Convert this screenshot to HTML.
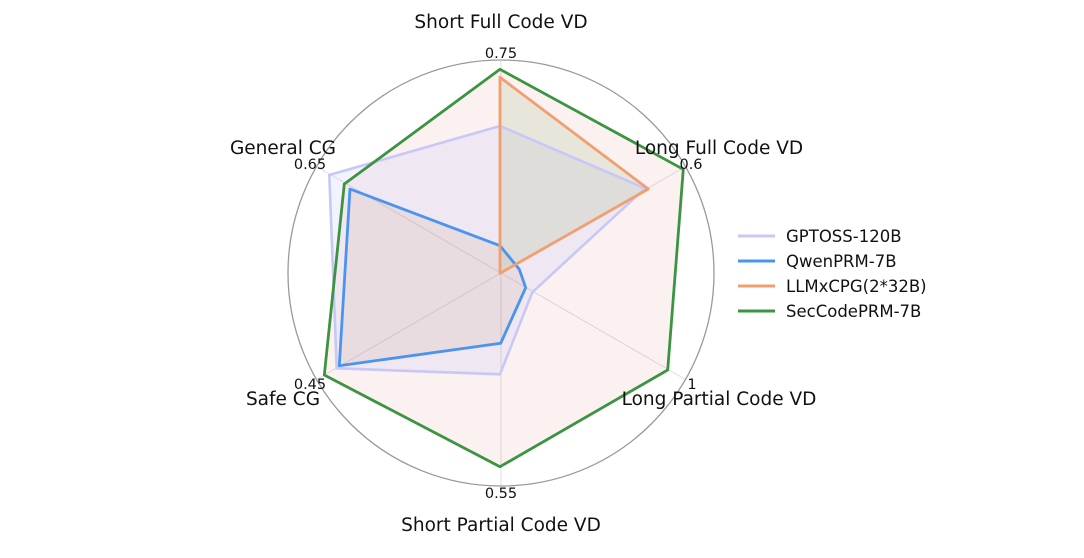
<!DOCTYPE html>
<html><head><meta charset="utf-8"><style>
html,body{margin:0;padding:0;background:#fff;}
svg{display:block;font-family:"DejaVu Sans","Liberation Sans",sans-serif;}
</style></head><body>
<svg width="1084" height="558" viewBox="0 0 1084 558" xmlns="http://www.w3.org/2000/svg">
<rect width="1084" height="558" fill="#fff"/>
<g stroke="#dcdcdc" stroke-width="1">
<line x1="501" y1="273" x2="501" y2="60"/>
<line x1="501" y1="273" x2="685.5" y2="166.5"/>
<line x1="501" y1="273" x2="685.5" y2="379.5"/>
<line x1="501" y1="273" x2="501" y2="486"/>
<line x1="501" y1="273" x2="316.5" y2="379.5"/>
<line x1="501" y1="273" x2="316.5" y2="166.5"/>
</g>
<circle cx="501" cy="273" r="213" fill="none" stroke="#9a9a9a" stroke-width="1.3"/>
<polygon points="500,69.3 683.3,169.3 667.7,370 500,466.7 324.3,375 344.3,184" fill="rgba(230,160,160,0.15)"/>
<polygon points="500,126 645,188.3 532.3,292.3 500,374.3 336.7,368.3 329.3,175" fill="rgba(170,170,240,0.14)"/>
<polygon points="500,245.7 519.3,269.3 525.7,287.7 500.7,343.3 339.3,365.7 350,189" fill="rgba(180,130,80,0.10)"/>
<polygon points="500,77.3 648.3,189 500,273.3" fill="rgba(120,160,80,0.14)"/>
<polygon points="500,126 645,188.3 532.3,292.3 500,374.3 336.7,368.3 329.3,175" fill="none" stroke="#c8c8f8" stroke-width="2.6" stroke-linejoin="round"/>
<polygon points="500,245.7 519.3,269.3 525.7,287.7 500.7,343.3 339.3,365.7 350,189" fill="none" stroke="#4a94ee" stroke-width="2.8" stroke-linejoin="round"/>
<polygon points="500,77.3 648.3,189 500,273.3" fill="none" stroke="#f0a070" stroke-width="2.8" stroke-linejoin="round"/>
<polygon points="500,69.3 683.3,169.3 667.7,370 500,466.7 324.3,375 344.3,184" fill="none" stroke="#3c9440" stroke-width="2.8" stroke-linejoin="round"/>
<g font-size="14.5" fill="#111" text-anchor="middle">
<text x="501" y="58">0.75</text>
<text x="691" y="169">0.6</text>
<text x="692" y="389">1</text>
<text x="501" y="498">0.55</text>
<text x="310" y="389">0.45</text>
<text x="310" y="169">0.65</text>
</g>
<g font-size="18.5" fill="#111" text-anchor="middle">
<text x="501" y="28">Short Full Code VD</text>
<text x="719" y="154">Long Full Code VD</text>
<text x="719" y="405">Long Partial Code VD</text>
<text x="501" y="531">Short Partial Code VD</text>
<text x="283" y="405">Safe CG</text>
<text x="283" y="154">General CG</text>
</g>
<g stroke-width="3">
<line x1="738" y1="236" x2="775" y2="236" stroke="#c8c8f8"/>
<line x1="738" y1="261" x2="775" y2="261" stroke="#4a94ee"/>
<line x1="738" y1="286" x2="775" y2="286" stroke="#f0a070"/>
<line x1="738" y1="311" x2="775" y2="311" stroke="#3c9440"/>
</g>
<g font-size="16.5" fill="#111">
<text x="786" y="242">GPTOSS-120B</text>
<text x="786" y="267">QwenPRM-7B</text>
<text x="786" y="292">LLMxCPG(2*32B)</text>
<text x="786" y="317">SecCodePRM-7B</text>
</g>
</svg>
</body></html>
